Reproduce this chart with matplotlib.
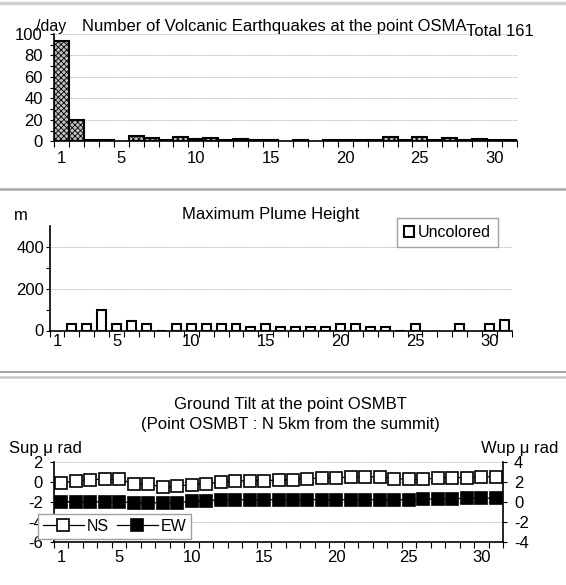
import numpy as np
import matplotlib
matplotlib.use('Agg')
import matplotlib.pyplot as plt
from matplotlib.lines import Line2D
from matplotlib.patches import Patch

plt.rcParams['font.family'] = ['Liberation Sans', 'DejaVu Sans']
plt.rcParams['axes.unicode_minus'] = False
plt.rcParams['hatch.linewidth'] = 0.6
plt.rcParams['hatch.color'] = '#404040'

# data
days = list(range(1, 32))
quakes = [93, 20, 1, 1, 0, 5, 3, 1, 4, 2, 3, 1, 2, 1, 1, 0,
          1, 0, 1, 1, 1, 1, 4, 1, 4, 1, 3, 1, 2, 1, 1]
plume = [np.nan, 30, 30, 100, 30, 45, 30, 0, 30, 30, 30, 30, 30, 15, 30, 15,
         15, 15, 15, 30, 30, 15, 15, 0, 30, np.nan, np.nan, 30, np.nan, 30, 50]
tilt_ns = [-0.1, 0.05, 0.2, 0.25, 0.25, -0.2, -0.25, -0.55, -0.45, -0.3, -0.2,
           -0.05, 0.05, 0.1, 0.1, 0.15, 0.2, 0.3, 0.35, 0.4, 0.45, 0.5, 0.45,
           0.3, 0.25, 0.25, 0.35, 0.4, 0.4, 0.45, 0.5]
tilt_ew = [0.0, 0.0, 0.0, 0.0, 0.0, -0.1, -0.1, -0.1, -0.1, 0.05, 0.1,
           0.2, 0.2, 0.2, 0.2, 0.2, 0.2, 0.2, 0.2, 0.2, 0.2, 0.2, 0.2,
           0.2, 0.2, 0.25, 0.3, 0.3, 0.35, 0.35, 0.35]
day_labels = [1, 5, 10, 15, 20, 25, 30]
total_quakes = 161

W, H = 566, 585
FS = 12
fig = plt.figure(figsize=(W / 100, H / 100), dpi=100)


def box(left, top, right, bottom):
    # pixel box -> figure fraction
    return [left / W, 1 - bottom / H, (right - left) / W, (bottom - top) / H]


def day_axis(ax, pad):
    ax.set_xlim(0.5, 31.5)
    ax.set_xticks(day_labels)
    ax.set_xticks(np.arange(0.5, 32, 1), minor=True)
    ax.tick_params(axis='x', which='major', length=0, pad=pad, labelsize=FS)
    ax.tick_params(axis='x', which='minor', length=4, width=0.8, direction='out')
    for s in ['top', 'right']:
        ax.spines[s].set_visible(False)
    for s in ['left', 'bottom']:
        ax.spines[s].set_linewidth(1.2)


grid_kw = dict(color='#a0a0a0', linewidth=0.6, linestyle=(0, (1, 1)))

# --- earthquakes ---
ax1 = fig.add_axes(box(54, 33.8, 517, 141.3))
q = np.array(quakes, dtype=float)
d = np.array(days)
m = q > 0
ax1.bar(d[m], q[m], width=1.0, facecolor='#c0c0c0', edgecolor='black',
        linewidth=1.5, hatch='xxxxxx', zorder=3)
ax1.set_ylim(0, 100)
ax1.set_yticks(range(0, 101, 20))
ax1.set_yticks(range(0, 101, 10), minor=True)
ax1.tick_params(axis='y', which='both', length=3, width=0.8, pad=5, labelsize=FS)
ax1.yaxis.grid(True, **grid_kw)
ax1.set_axisbelow(True)
day_axis(ax1, 7)
fig.text(51 / W, 1 - 26 / H, '/day', fontsize=11.5, ha='center', va='center')
fig.text(274 / W, 1 - 27 / H, 'Number of Volcanic Earthquakes at the point OSMA',
         fontsize=FS, ha='center', va='center')
fig.text(500 / W, 1 - 32 / H, 'Total %d' % total_quakes, fontsize=FS,
         ha='center', va='center')

# --- plume ---
ax2 = fig.add_axes(box(49.5, 226, 512, 330.5))
p = np.array(plume, dtype=float)
m = ~np.isnan(p)
ax2.bar(d[m], p[m], width=0.6, facecolor='white', edgecolor='black',
        linewidth=1.5, zorder=3)
ax2.set_ylim(0, 500)
ax2.set_yticks([0, 200, 400])
ax2.set_yticks([100, 300], minor=True)
ax2.tick_params(axis='y', which='both', length=3, width=0.8, pad=1, labelsize=FS)
ax2.yaxis.grid(True, **grid_kw)
ax2.set_axisbelow(True)
day_axis(ax2, 2.5)
ax2.legend(handles=[Patch(facecolor='white', edgecolor='black', linewidth=1.5,
                          label='Uncolored')],
           loc='upper right', bbox_to_anchor=(0.97, 1.077), fontsize=11.5,
           frameon=True, fancybox=False, edgecolor='#a0a0a0', framealpha=1,
           handlelength=0.6, handleheight=0.6, handletextpad=0.25,
           borderpad=0.45, borderaxespad=0)
fig.text(271 / W, 1 - 214 / H, 'Maximum Plume Height', fontsize=FS,
         ha='center', va='center')
fig.text(21 / W, 1 - 215 / H, 'm', fontsize=FS, ha='center', va='center')

# --- ground tilt ---
ax3 = fig.add_axes(box(54, 461.5, 503, 542))
ln_ns, = ax3.plot(days, tilt_ns, color='black', linewidth=0.9, marker='s',
                  markersize=8, markerfacecolor='white',
                  markeredgecolor='black', markeredgewidth=1.2,
                  label='NS', zorder=3)
ax3.set_ylim(-6, 2)
ax3.set_yticks(range(-6, 3, 2))
ax3.tick_params(axis='y', length=3, width=0.8, pad=5, labelsize=FS)
ax3.yaxis.grid(True, **grid_kw)
ax3.set_axisbelow(True)
day_axis(ax3, 5.5)
ax3r = ax3.twinx()
ln_ew, = ax3r.plot(days, tilt_ew, color='black', linewidth=0.9, marker='s',
                   markersize=8, markerfacecolor='black',
                   markeredgecolor='black', markeredgewidth=1.2,
                   label='EW', zorder=3)
ax3r.set_ylim(-4, 4)
ax3r.set_yticks(range(-4, 5, 2))
ax3r.tick_params(axis='y', length=3, width=0.8, pad=5, labelsize=FS)
ax3r.spines['top'].set_visible(False)
ax3r.spines['right'].set_linewidth(1.2)
ax3r.spines['left'].set_visible(False)
ax3r.spines['bottom'].set_visible(False)
ax3r.legend(handles=[ln_ns, ln_ew], loc='upper left',
            bbox_to_anchor=(-0.036, 0.348), ncol=2, fontsize=11.5,
            frameon=True, fancybox=False, edgecolor='#a0a0a0', framealpha=1,
            handlelength=2.6, handletextpad=0.15, columnspacing=0.5,
            borderpad=0.3, borderaxespad=0)
fig.text(290 / W, 1 - 405 / H, 'Ground Tilt at the point OSMBT', fontsize=FS,
         ha='center', va='center')
fig.text(290 / W, 1 - 424 / H, '(Point OSMBT : N 5km from the summit)',
         fontsize=FS, ha='center', va='center')
fig.text(9 / W, 1 - 448 / H, 'Sup \u03bc rad', fontsize=FS, ha='left', va='center')
fig.text(558 / W, 1 - 448 / H, 'Wup \u03bc rad', fontsize=FS, ha='right',
         va='center')

# panel separators
for y, c, lw in [(3, '#d0d0d0', 2.5), (189, '#a8a8a8', 1.8),
                 (372, '#909090', 1.2), (377, '#c8c8c8', 1.8)]:
    fig.add_artist(Line2D([0, 1], [1 - y / H, 1 - y / H], color=c,
                          linewidth=lw, transform=fig.transFigure))

fig.savefig('out.png', dpi=100)
